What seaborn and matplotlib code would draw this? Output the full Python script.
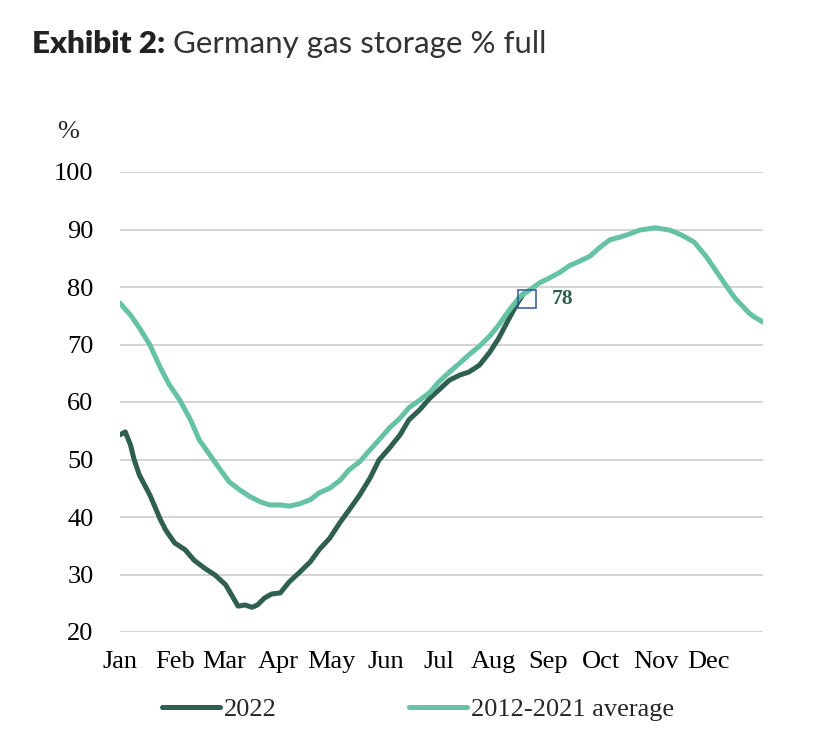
import numpy as np
import pandas as pd
import matplotlib.pyplot as plt
import seaborn as sns
from matplotlib.lines import Line2D

# day of year -> storage % full
days_2022 = [0, 3, 6, 8, 11, 17, 23, 26, 31, 37, 42, 48, 54, 60, 64, 67, 71, 75, 78, 82,
             86, 91, 96, 102, 108, 113, 119, 125, 130, 136, 142, 147, 153, 159, 164, 170,
             176, 181, 187, 193, 198, 204, 210, 215, 221, 226, 229]
vals_2022 = [54.3, 54.8, 52.5, 50.0, 47.3, 43.8, 39.5, 37.7, 35.5, 34.3, 32.5, 31.1, 29.9,
             28.2, 26.1, 24.5, 24.7, 24.3, 24.7, 25.9, 26.6, 26.8, 28.7, 30.4, 32.2, 34.3,
             36.3, 39.1, 41.2, 43.8, 46.8, 49.9, 52.0, 54.3, 56.9, 58.6, 60.7, 62.1, 63.8,
             64.7, 65.2, 66.4, 68.7, 71.1, 74.6, 77.4, 78.8]

days_avg = [0, 6, 11, 17, 23, 28, 34, 40, 45, 51, 57, 62, 68, 74, 80, 85, 91, 96, 102, 108,
            113, 119, 125, 130, 136, 142, 147, 153, 159, 164, 170, 176, 181, 187, 193, 198,
            204, 210, 215, 221, 227, 235, 238, 244, 250, 255, 261, 267, 272, 278, 284, 289,
            295, 304, 312, 319, 326, 333, 343, 349, 357, 360, 365]
vals_avg = [77.2, 75.1, 72.9, 69.9, 65.9, 63.0, 60.3, 56.9, 53.4, 50.8, 48.2, 46.1, 44.7,
            43.5, 42.6, 42.1, 42.1, 41.9, 42.3, 43.0, 44.2, 45.0, 46.4, 48.2, 49.6, 51.7,
            53.4, 55.5, 57.2, 59.0, 60.3, 61.7, 63.5, 65.2, 66.8, 68.2, 69.7, 71.5, 73.4,
            76.0, 78.3, 80.0, 80.7, 81.6, 82.6, 83.7, 84.5, 85.4, 86.8, 88.2, 88.7, 89.2,
            89.9, 90.3, 89.9, 89.0, 87.8, 85.2, 80.7, 78.1, 75.5, 74.8, 73.9]

month_starts = [0, 31, 59, 90, 120, 151, 181, 212, 243, 273, 304, 334]
month_labels = ['Jan', 'Feb', 'Mar', 'Apr', 'May', 'Jun', 'Jul', 'Aug', 'Sep', 'Oct', 'Nov', 'Dec']
last_day, last_val = 231, 78

dark = '#2f5f50'
light = '#66c2a4'

df = pd.concat([
    pd.DataFrame({'day': days_2022, 'pct': vals_2022, 'series': '2022'}),
    pd.DataFrame({'day': days_avg, 'pct': vals_avg, 'series': '2012-2021 average'}),
])

sns.set_style('white')
plt.rcParams['font.family'] = ['Liberation Serif', 'DejaVu Serif']

fig = plt.figure(figsize=(8.28, 7.49), dpi=100)
ax = fig.add_axes([120 / 828, 1 - 632 / 749, 643 / 828, 460 / 749])

sns.lineplot(data=df, x='day', y='pct', hue='series', sort=False,
             palette={'2022': dark, '2012-2021 average': light},
             hue_order=['2022', '2012-2021 average'],
             linewidth=3.6, solid_capstyle='round', ax=ax, legend=False, zorder=3)

ax.plot([last_day], [last_val], marker='s', markersize=13.5, markerfacecolor='none',
        markeredgecolor='#2f5597', markeredgewidth=1.1, zorder=4)
ax.text(last_day + 14, last_val, str(last_val), color=dark, fontsize=15.5,
        fontweight='bold', va='center', ha='left')

ax.set_xlim(0, 365)
ax.set_ylim(20, 100)
ax.set_yticks(range(20, 101, 10))
ax.set_xticks(month_starts)
ax.set_xticklabels(month_labels)
ax.grid(axis='y', color='#c9c9c9', linewidth=1.1)
ax.grid(axis='x', visible=False)
for s in ax.spines.values():
    s.set_visible(False)
ax.tick_params(axis='both', length=0, labelsize=19, colors='black')
ax.tick_params(axis='y', pad=19)
ax.tick_params(axis='x', pad=14)
ax.set_xlabel('')
ax.set_ylabel('')

fig.text(57 / 828, 1 - 132 / 749, '%', fontsize=19, va='center', ha='left')

# legend
handles = [Line2D([], [], color=dark, linewidth=3.6, solid_capstyle='round'),
           Line2D([], [], color=light, linewidth=3.6, solid_capstyle='round')]
fig.legend(handles, ['2022', '2012-2021 average'], loc='center',
           bbox_to_anchor=(418 / 828, 1 - 709 / 749), ncol=2, frameon=False,
           fontsize=19, handlelength=2.2, handletextpad=0.15, columnspacing=5.0)

# title
t1 = fig.text(32 / 828, 1 - 44 / 749, 'Exhibit 2:', fontsize=22.5, fontweight='heavy',
              family=['Lato', 'DejaVu Sans'], color='#222222', va='center', ha='left')
fig.canvas.draw()
bb = t1.get_window_extent()
fig.text((bb.x1 + 8) / 828, 1 - 44 / 749, 'Germany gas storage % full', fontsize=22.5,
         family=['Lato', 'DejaVu Sans'], color='#333333', va='center', ha='left')

plt.savefig('out.png', dpi=100)
